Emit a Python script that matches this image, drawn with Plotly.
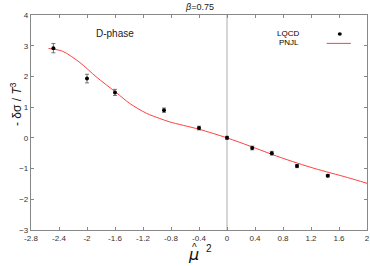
import plotly.graph_objects as go

# LQCD data
lqcd_x = [-2.48, -2.0, -1.6, -0.9, -0.4, 0.0, 0.36, 0.64, 1.0, 1.44]
lqcd_y = [2.92, 1.93, 1.48, 0.90, 0.32, 0.0, -0.33, -0.50, -0.92, -1.23]
lqcd_err = [0.15, 0.14, 0.10, 0.07, 0.06, 0.05, 0.06, 0.06, 0.05, 0.04]

# PNJL curve
pnjl_x = [-2.55, -2.35, -2.1, -1.87, -1.58, -1.39, -1.15, -0.96, -0.82, -0.4, 0.0, 0.33, 0.76, 1.24, 1.72, 2.0]
pnjl_y = [2.91, 2.82, 2.45, 1.99, 1.47, 1.12, 0.80, 0.63, 0.52, 0.28, 0.0, -0.27, -0.635, -0.99, -1.29, -1.48]

x_ticks = [-2.8, -2.4, -2.0, -1.6, -1.2, -0.8, -0.4, 0.0, 0.4, 0.8, 1.2, 1.6, 2.0]
x_labels = ["-2.8", "-2.4", "-2", "-1.6", "-1.2", "-0.8", "-0.4", "0", "0.4", "0.8", "1.2", "1.6", "2"]
y_ticks = [-3, -2, -1, 0, 1, 2, 3, 4]

font = "Liberation Sans, Arial, sans-serif"

fig = go.Figure()
fig.add_trace(go.Scatter(
    x=pnjl_x, y=pnjl_y, mode="lines", line=dict(color="#ff4040", width=1, shape="spline", smoothing=0.8),
    showlegend=False, hoverinfo="skip"))
fig.add_trace(go.Scatter(
    x=lqcd_x, y=lqcd_y, mode="markers",
    marker=dict(color="black", size=4),
    error_y=dict(type="data", array=lqcd_err, color="#555555", thickness=0.8, width=2),
    showlegend=False))

fig.add_shape(type="line", x0=0, x1=0, y0=-3, y1=4, xref="x", yref="y",
              line=dict(color="#c8c8c8", width=1.5), layer="below")

axis_common = dict(showgrid=False, zeroline=False, showline=True, linecolor="#888888",
                   linewidth=1.2, mirror="ticks", ticks="inside", ticklen=3,
                   tickcolor="#888888", tickfont=dict(family=font, size=8, color="#333333"))

fig.update_xaxes(range=[-2.8, 2.0], tickvals=x_ticks, ticktext=x_labels, **axis_common)
fig.update_yaxes(range=[-3, 4], tickvals=y_ticks, **axis_common)

# legend (manual)
fig.add_annotation(xref="paper", yref="paper", x=0.805, y=0.912, text="LQCD", showarrow=False,
                   xanchor="right", yanchor="middle", font=dict(family=font, size=8, color="black"))
fig.add_annotation(xref="paper", yref="paper", x=0.805, y=0.870, text="PNJL", showarrow=False,
                   xanchor="right", yanchor="middle", font=dict(family=font, size=8, color="black"))
fig.add_shape(type="circle", xref="paper", yref="paper", x0=0.913, x1=0.925, y0=0.903, y1=0.920,
              fillcolor="black", line=dict(color="black", width=0))
fig.add_shape(type="line", xref="paper", yref="paper", x0=0.88, x1=0.952, y0=0.868, y1=0.868,
              line=dict(color="#ff4040", width=1))

# D-phase text
fig.add_annotation(x=-1.6, y=3.41, xref="x", yref="y", text="D-phase", showarrow=False,
                   font=dict(family=font, size=10, color="#222222"))

# title
fig.add_annotation(xref="paper", yref="paper", x=0.5, y=1.0, yanchor="bottom", yshift=1,
                   text="<i>β</i>=0.75", showarrow=False,
                   font=dict(family=font, size=9, color="#222222"))

# y axis title
fig.add_annotation(xref="paper", yref="paper", x=-0.075, y=0.585, textangle=-90,
                   text="- δσ / <i>T</i><sup>3</sup>", showarrow=False,
                   font=dict(family=font, size=12, color="#111111"))

# x axis title
fig.add_annotation(xref="paper", yref="paper", x=0.485, y=-0.115, yanchor="middle",
                   text="<i>μ</i>", showarrow=False,
                   font=dict(family="DejaVu Sans, sans-serif", size=16, color="#111111"))
fig.add_annotation(xref="paper", yref="paper", x=0.488, y=-0.082, yanchor="middle",
                   text="^", showarrow=False,
                   font=dict(family=font, size=10, color="#111111"))
fig.add_annotation(xref="paper", yref="paper", x=0.53, y=-0.088, yanchor="middle",
                   text="2", showarrow=False,
                   font=dict(family=font, size=10, color="#111111"))

fig.update_layout(width=370, height=266, margin=dict(l=31, r=3, t=15, b=36, autoexpand=False),
                  plot_bgcolor="white", paper_bgcolor="white", showlegend=False)

fig.write_html("out.html", config={"displayModeBar": False},
               post_script="document.body.style.margin='0';document.body.style.overflow='hidden';")
